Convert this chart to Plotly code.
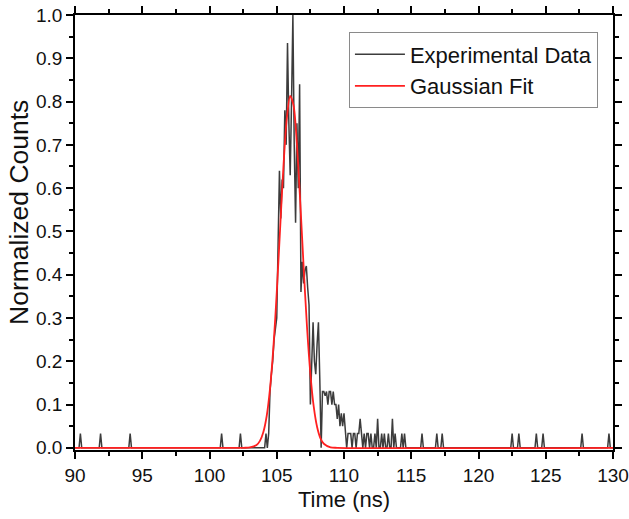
import plotly.graph_objects as go

# ---------------- data ----------------
BIN_NS = 0.1  # histogram bin width (ns)

# isolated single-count bins in the background
spike_times = [90.4, 91.9, 94.1, 100.9, 102.3, 104.2,
               115.8, 116.9, 117.3, 122.5, 123.0, 124.3, 124.8, 127.7, 129.7]
spike_values = [0.033, 0.033, 0.033, 0.033, 0.033, 0.033,
                0.033, 0.033, 0.033, 0.033, 0.033, 0.033, 0.033, 0.033, 0.033]

# main pulse, consecutive bins starting at 104.3 ns
pulse_start = 104.3
pulse_values = [
    0.00, 0.033, 0.13, 0.17, 0.20, 0.25, 0.27, 0.30, 0.47, 0.64,   # 104.3 - 105.2
    0.53, 0.62, 0.60, 0.78, 0.70, 0.935, 0.75, 0.63, 0.80, 1.00,   # 105.3 - 106.2
    0.70, 0.52, 0.75, 0.60, 0.84, 0.36, 0.43, 0.38, 0.41, 0.42,    # 106.3 - 107.2
    0.37, 0.33, 0.10, 0.20, 0.29, 0.20, 0.17, 0.24, 0.29, 0.16,    # 107.3 - 108.2
    0.00, 0.13, 0.13, 0.12, 0.13, 0.10, 0.13, 0.13, 0.10, 0.13,    # 108.3 - 109.2
    0.10, 0.10, 0.067, 0.10, 0.05, 0.08, 0.05, 0.08, 0.033, 0.00,  # 109.3 - 110.2
    0.033, 0.033, 0.033, 0.00, 0.033, 0.033, 0.00, 0.033, 0.033, 0.067,  # 110.3 - 111.2
    0.033, 0.00, 0.033, 0.00, 0.033, 0.033, 0.00, 0.033, 0.00, 0.00,    # 111.3 - 112.2
    0.033, 0.00, 0.067, 0.00, 0.00, 0.033, 0.00, 0.033, 0.00, 0.00,     # 112.3 - 113.2
    0.033, 0.00, 0.00, 0.067, 0.00, 0.033, 0.00, 0.00, 0.00, 0.00,      # 113.3 - 114.2
    0.033, 0.00, 0.033, 0.00,                                           # 114.3 - 114.6
]

# Gaussian fit curve
fit_time = [90.0, 102.5, 103.0, 103.5, 103.75, 104.0, 104.25, 104.5, 104.75,
            105.0, 105.25, 105.5, 105.75, 106.0, 106.25, 106.5, 106.75,
            107.0, 107.25, 107.5, 107.75, 108.0, 108.25, 108.5, 109.0,
            109.5, 130.0]
fit_value = [0.0, 0.0001, 0.0008, 0.0064, 0.016, 0.036, 0.073, 0.137, 0.232,
             0.359, 0.506, 0.651, 0.762, 0.813, 0.791, 0.701, 0.566,
             0.417, 0.279, 0.171, 0.095, 0.048, 0.022, 0.0094, 0.0013,
             0.0001, 0.0]

x_ticks = [90, 95, 100, 105, 110, 115, 120, 125, 130]
y_ticks = [0.0, 0.1, 0.2, 0.3, 0.4, 0.5, 0.6, 0.7, 0.8, 0.9, 1.0]

# ---------------- assemble histogram line ----------------
n_bins = int(round((130 - 90) / BIN_NS)) + 1
time_grid = [round(90 + i * BIN_NS, 1) for i in range(n_bins)]
counts = {}
for t, v in zip(spike_times, spike_values):
    counts[round(t, 1)] = v
for i, v in enumerate(pulse_values):
    counts[round(pulse_start + i * BIN_NS, 1)] = v
exp_values = [counts.get(t, 0.0) for t in time_grid]

FONT = "Liberation Sans, Arial, sans-serif"
TXT = "#111111"

fig = go.Figure()
fig.add_trace(go.Scatter(
    x=time_grid, y=exp_values, mode="lines", name="Experimental Data",
    line=dict(color="#3c3c3c", width=1.5),
))
fig.add_trace(go.Scatter(
    x=fit_time, y=fit_value, mode="lines", name="Gaussian Fit",
    line=dict(color="#ff2020", width=1.8, shape="spline", smoothing=0.8),
))

axis_common = dict(
    showline=True, linecolor="black", linewidth=1.6, mirror="ticks",
    ticks="outside", ticklen=7, tickwidth=1.5, tickcolor="black",
    showgrid=False, zeroline=False, automargin=False,
    tickfont=dict(family=FONT, size=19, color=TXT),
)

fig.update_xaxes(
    range=[90, 130], tickvals=x_ticks, ticktext=[str(v) for v in x_ticks],
    title=dict(text="Time (ns)", font=dict(family=FONT, size=22, color=TXT), standoff=7),
    minor=dict(ticks="outside", ticklen=4, tickwidth=1.5, tickcolor="black", dtick=2.5, showgrid=False),
    **axis_common,
)
fig.update_yaxes(
    range=[-0.005, 1.0], tickvals=y_ticks, ticktext=[f"{v:.1f}" for v in y_ticks],
    minor=dict(ticks="outside", ticklen=4, tickwidth=1.5, tickcolor="black", dtick=0.05, showgrid=False),
    **axis_common,
)

fig.add_annotation(
    text="Normalized Counts", xref="paper", yref="paper",
    x=-0.104, y=0.545, xanchor="center", yanchor="middle",
    textangle=-90, showarrow=False,
    font=dict(family=FONT, size=26.5, color=TXT),
)

fig.update_layout(
    width=629, height=519,
    margin=dict(l=75, r=16, t=15, b=69, autoexpand=False),
    plot_bgcolor="white", paper_bgcolor="white",
    font=dict(family=FONT, color=TXT),
    legend=dict(
        x=0.972, xanchor="right", y=0.96, yanchor="top",
        bgcolor="white", bordercolor="#8a8a8a", borderwidth=1,
        font=dict(family=FONT, size=22, color=TXT),
        itemwidth=50, tracegroupgap=0,
    ),
    showlegend=True,
)

fig.write_html(
    "out.html",
    config={"displayModeBar": False},
    post_script="document.body.style.margin='0';document.body.style.overflow='hidden';",
)
